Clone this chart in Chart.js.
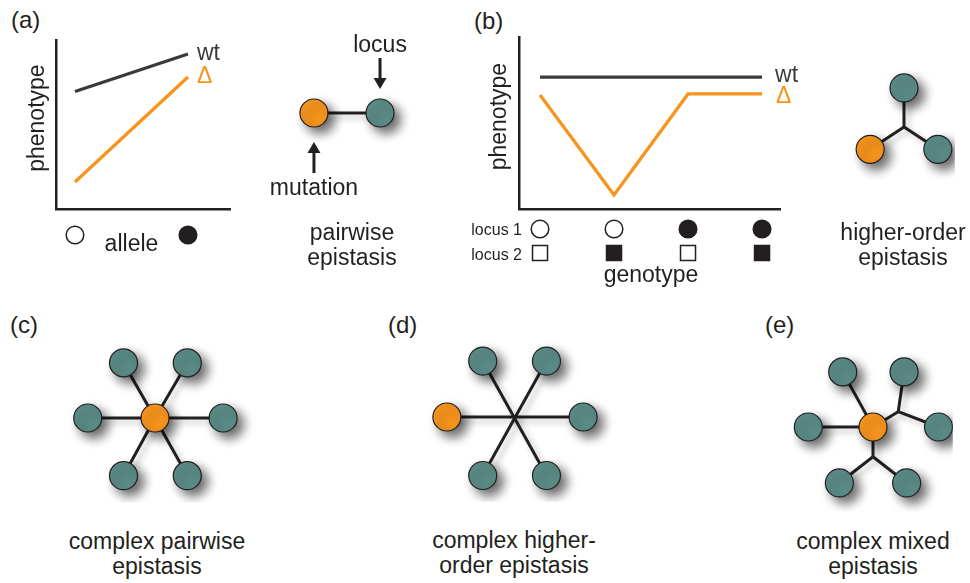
<!DOCTYPE html>
<html>
<head>
<meta charset="utf-8">
<script src="https://cdn.jsdelivr.net/npm/chart.js@4.4.1/dist/chart.umd.min.js"></script>
<style>
    body { margin: 0; width: 970px; height: 583px; overflow: hidden; background: #fff; position: relative;
           font-family: "Liberation Sans", Arial, sans-serif; color: #231f20; }
    canvas { position: absolute; }
    .tag { position: absolute; font-size: 24px; line-height: 24px; }
    .cap { position: absolute; width: 240px; text-align: center; font-size: 23px; line-height: 25px; white-space: nowrap; }
</style>
</head>
<body>
<div class="tag" style="left:11px;top:8px">(a)</div>
<div class="tag" style="left:474px;top:9px">(b)</div>
<div class="tag" style="left:10px;top:313px">(c)</div>
<div class="tag" style="left:388px;top:313px">(d)</div>
<div class="tag" style="left:765px;top:313px">(e)</div>

<canvas id="chartA" width="250" height="260" style="left:0;top:0"></canvas>
<canvas id="chartB" width="380" height="300" style="left:440px;top:0"></canvas>
<canvas id="netPair" width="200" height="180" style="left:247px;top:23px"></canvas>
<canvas id="netTri" width="132" height="150" style="left:838px;top:52px"></canvas>
<canvas id="netHex" width="240" height="200" style="left:35px;top:318px"></canvas>
<canvas id="netCross" width="240" height="200" style="left:395px;top:317px"></canvas>
<canvas id="netMixed" width="190" height="200" style="left:778px;top:327px"></canvas>

<div class="cap" style="left:232px;top:220px">pairwise<br>epistasis</div>
<div class="cap" style="left:783px;top:220px">higher-order<br>epistasis</div>
<div class="cap" style="left:37px;top:529px">complex pairwise<br>epistasis</div>
<div class="cap" style="left:394px;top:528px">complex higher-<br>order epistasis</div>
<div class="cap" style="left:753px;top:529px">complex mixed<br>epistasis</div>

<script>
// panel (a): phenotype against allele
const alleles = [0, 1];
const alleleFilled = [false, true];
const wtA = [6.95, 9.17];
const deltaA = [1.6, 7.81];

// panel (b): phenotype against genotype
const genotypes = [0, 1, 2, 3];
const locus1 = [false, false, true, true];
const locus2 = [false, true, false, true];
const wtB = [7.67, 7.67, 7.67, 7.67];
const deltaB = [6.63, 0.81, 6.69, 6.69];

// network layouts, in spoke lengths: [x, y, kind]  kind 1 = mutation, 0 = locus, -1 = branch point
const pairNodes = [[-0.506, 0, 1], [0.506, 0, 0]];
const pairEdges = [[0, 1]];
const triNodes = [[0, 0, -1], [0, -0.636, 0], [-0.571, 0.364, 1], [0.571, 0.364, 0]];
const triEdges = [[0, 1], [0, 2], [0, 3]];
const hexNodes = [[0, 0, 1], [-0.468, -0.844, 0], [0.48, -0.844, 0], [-1, 0, 0], [1.013, 0, 0], [-0.468, 0.883, 0], [0.48, 0.883, 0]];
const hexEdges = [[0, 1], [0, 2], [0, 3], [0, 4], [0, 5], [0, 6]];
const crossNodes = [[-0.48, -0.857, 0], [0.468, -0.857, 0], [-1.013, 0, 1], [1.013, 0, 0], [-0.48, 0.896, 0], [0.468, 0.896, 0]];
const crossEdges = [[0, 5], [1, 4], [2, 3]];
const mixedNodes = [[0, 0, 1], [-0.468, -0.844, 0], [0.48, -0.844, 0], [-1, 0, 0], [1.013, 0, 0], [-0.52, 0.857, 0], [0.52, 0.857, 0], [0.39, -0.234, -1], [0, 0.455, -1]];
const mixedEdges = [[0, 1], [0, 3], [0, 7], [7, 2], [7, 4], [0, 8], [8, 5], [8, 6]];

const INK = '#231f20';
const GREY = '#3a3a3a';
const ORANGE = '#f7941d';
const TEAL = '#5b8c87';
const FONT = '"Liberation Sans", Arial, sans-serif';
const UNIT = 77; // pixels per spoke length

Chart.defaults.font.family = FONT;
Chart.defaults.color = INK;
Chart.defaults.animation = false;
Chart.defaults.events = [];
Chart.defaults.plugins.legend.display = false;
Chart.defaults.plugins.tooltip.enabled = false;

// hidden ticks, only the axis line shows
const bareAxis = (min, max) => ({
    type: 'linear', min: min, max: max,
    ticks: { display: false },
    grid: { display: false, drawTicks: false },
    border: { display: true, color: INK, width: 2.5 }
});
const phenoAxis = (padTop, padBottom) => Object.assign(bareAxis(0, 10), {
    title: { display: true, text: '  phenotype', color: INK, font: { size: 23, lineHeight: 1.1 },
             padding: { top: padTop, bottom: padBottom } }
});

// "wt" / "Δ" written after the last point of each line
const endLabels = {
    id: 'endLabels',
    afterDatasetsDraw(chart, args, opts) {
        const ctx = chart.ctx;
        ctx.save();
        ctx.font = '23px ' + FONT;
        ctx.textAlign = 'left';
        ctx.textBaseline = 'alphabetic';
        chart.data.datasets.forEach((ds, i) => {
            const pts = chart.getDatasetMeta(i).data;
            const p = pts[pts.length - 1];
            ctx.fillStyle = ds.borderColor;
            ctx.fillText(ds.label, p.x + opts.offsets[i][0], p.y + opts.offsets[i][1]);
        });
        ctx.restore();
    }
};

function mark(ctx, shape, x, y, filled) {
    ctx.beginPath();
    if (shape === 'circle') ctx.arc(x, y, 8.8, 0, Math.PI * 2);
    else ctx.rect(x - 7.5, y - 7.5, 15, 15);
    if (filled) ctx.fill();
    ctx.stroke();
}

const alleleMarks = {
    id: 'alleleMarks',
    afterDraw(chart) {
        const { ctx, chartArea, scales: { x } } = chart;
        ctx.save();
        ctx.lineWidth = 1.5;
        ctx.strokeStyle = INK;
        ctx.fillStyle = INK;
        alleles.forEach((a, i) => mark(ctx, 'circle', x.getPixelForValue(a), chartArea.bottom + 26, alleleFilled[i]));
        const mid = (x.getPixelForValue(alleles[0]) + x.getPixelForValue(alleles[alleles.length - 1])) / 2;
        ctx.font = '23px ' + FONT;
        ctx.textAlign = 'center';
        ctx.fillText('allele', mid, chartArea.bottom + 42);
        ctx.restore();
    }
};

const genotypeMarks = {
    id: 'genotypeMarks',
    afterDraw(chart) {
        const { ctx, chartArea, scales: { x } } = chart;
        ctx.save();
        ctx.lineWidth = 1.5;
        ctx.strokeStyle = INK;
        ctx.fillStyle = INK;
        genotypes.forEach((g, i) => {
            const px = x.getPixelForValue(g);
            mark(ctx, 'circle', px, chartArea.bottom + 20, locus1[i]);
            mark(ctx, 'square', px, chartArea.bottom + 44, locus2[i]);
        });
        ctx.font = '16px ' + FONT;
        ctx.textAlign = 'right';
        ctx.fillText('locus 1', chartArea.left + 3, chartArea.bottom + 26);
        ctx.fillText('locus 2', chartArea.left + 3, chartArea.bottom + 51);
        const mid = (x.getPixelForValue(genotypes[0]) + x.getPixelForValue(genotypes[genotypes.length - 1])) / 2;
        ctx.font = '23px ' + FONT;
        ctx.textAlign = 'center';
        ctx.fillText('genotype', mid, chartArea.bottom + 73);
        ctx.restore();
    }
};

new Chart(document.getElementById('chartA'), {
    type: 'line',
    data: {
        datasets: [
            { label: 'wt', data: alleles.map((a, i) => ({ x: a, y: wtA[i] })), borderColor: GREY },
            { label: 'Δ', data: alleles.map((a, i) => ({ x: a, y: deltaA[i] })), borderColor: ORANGE }
        ]
    },
    options: {
        responsive: false,
        elements: { line: { borderWidth: 3.3, tension: 0 }, point: { radius: 0 } },
        layout: { padding: { left: 22, right: 20, top: 40, bottom: 51 } },
        scales: { x: bareAxis(-0.168, 1.372), y: phenoAxis(3.35, 5.35) },
        plugins: { endLabels: { offsets: [[9, 6], [9, 6]] } }
    },
    plugins: [endLabels, alleleMarks]
});

new Chart(document.getElementById('chartB'), {
    type: 'line',
    data: {
        datasets: [
            { label: 'wt', data: genotypes.map((g, i) => ({ x: g, y: wtB[i] })), borderColor: GREY },
            { label: 'Δ', data: genotypes.map((g, i) => ({ x: g, y: deltaB[i] })), borderColor: ORANGE }
        ]
    },
    options: {
        responsive: false,
        elements: { line: { borderWidth: 3.3, tension: 0 }, point: { radius: 0 } },
        layout: { padding: { left: 44, right: 40, top: 37, bottom: 91 } },
        scales: { x: bareAxis(-0.284, 3.243), y: phenoAxis(3.35, 6.35) },
        plugins: { endLabels: { offsets: [[13, 5], [14, 9]] } }
    },
    plugins: [endLabels, genotypeMarks]
});

// soft drop shadow under nodes and edges
const shadowPlugin = {
    id: 'shadow',
    beforeDatasetDraw(chart, args) {
        const s = chart.data.datasets[args.index].shadow;
        const ctx = chart.ctx;
        ctx.save();
        if (s) {
            ctx.shadowOffsetX = s[0];
            ctx.shadowOffsetY = s[1];
            ctx.shadowBlur = s[2];
            ctx.shadowColor = s[3];
        }
    },
    afterDatasetDraw(chart) {
        chart.ctx.restore();
    }
};

function network(id, nodes, edges, extra) {
    const canvas = document.getElementById(id);
    const hw = canvas.width / 2 / UNIT, hh = canvas.height / 2 / UNIT;
    const pos = nodes.map(n => ({ x: n[0], y: n[1] }));
    const sites = nodes.filter(n => n[2] >= 0);
    const datasets = [{
        data: sites.map(n => ({ x: n[0], y: n[1] })),
        pointRadius: 14,
        pointBackgroundColor: sites.map(n => n[2] ? ORANGE : TEAL),
        pointBorderColor: INK,
        pointBorderWidth: 1.2,
        shadow: [6, 6, 11, 'rgba(0,0,0,0.6)'],
        order: 0
    }].concat(edges.map(e => ({
        data: [pos[e[0]], pos[e[1]]],
        showLine: true,
        borderColor: INK,
        borderWidth: 3,
        pointRadius: 0,
        shadow: [4, 4, 6, 'rgba(0,0,0,0.25)'],
        order: 1
    })));
    return new Chart(canvas, {
        type: 'scatter',
        data: { datasets: datasets },
        options: {
            responsive: false,
            layout: { padding: 0 },
            scales: {
                x: { type: 'linear', min: -hw, max: hw, display: false },
                y: { type: 'linear', min: -hh, max: hh, reverse: true, display: false }
            }
        },
        plugins: [shadowPlugin].concat(extra || [])
    });
}

function arrow(ctx, x, yFrom, yTip) {
    const dir = yTip > yFrom ? 1 : -1;
    ctx.beginPath();
    ctx.moveTo(x, yFrom);
    ctx.lineTo(x, yTip - dir * 9);
    ctx.stroke();
    ctx.beginPath();
    ctx.moveTo(x, yTip);
    ctx.lineTo(x - 6.5, yTip - dir * 11);
    ctx.lineTo(x + 6.5, yTip - dir * 11);
    ctx.closePath();
    ctx.fill();
}

// "locus" / "mutation" pointers in the pairwise sketch
const pairPointers = {
    id: 'pairPointers',
    afterDatasetsDraw(chart) {
        const pts = chart.getDatasetMeta(0).data;
        const ctx = chart.ctx;
        const mut = pts[0], loc = pts[1];
        ctx.save();
        ctx.strokeStyle = INK;
        ctx.fillStyle = INK;
        ctx.lineWidth = 3;
        arrow(ctx, loc.x, loc.y - 55, loc.y - 24);
        arrow(ctx, mut.x, mut.y + 60, mut.y + 29);
        ctx.font = '23px ' + FONT;
        ctx.textAlign = 'center';
        ctx.fillText('locus', loc.x, loc.y - 61);
        ctx.fillText('mutation', mut.x, mut.y + 82);
        ctx.restore();
    }
};

network('netPair', pairNodes, pairEdges, [pairPointers]);
network('netTri', triNodes, triEdges);
network('netHex', hexNodes, hexEdges);
network('netCross', crossNodes, crossEdges);
network('netMixed', mixedNodes, mixedEdges);
</script>
</body>
</html>
